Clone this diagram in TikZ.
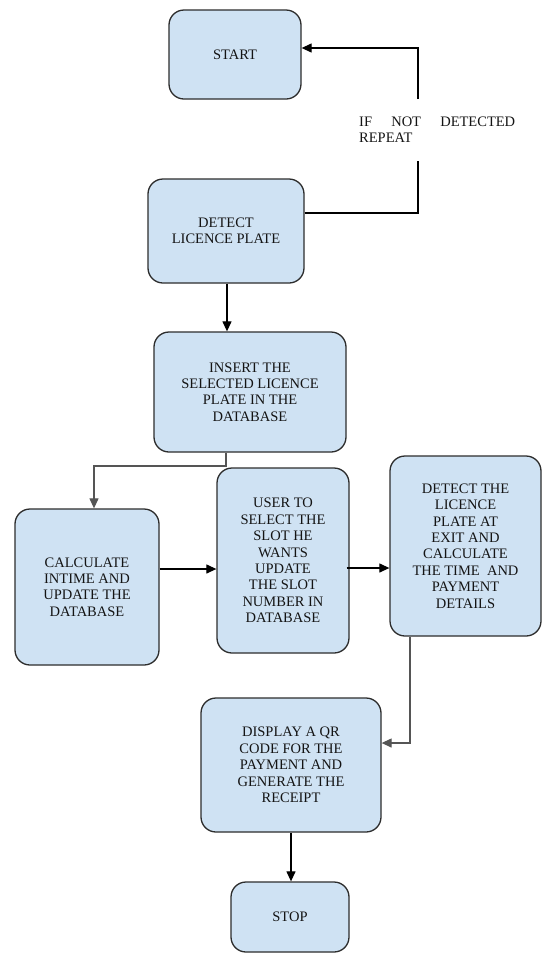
\documentclass[tikz,border=0pt]{standalone}
\usepackage{fontspec}
\setmainfont{Liberation Serif}
\usetikzlibrary{arrows.meta,calc}
\definecolor{boxfill}{RGB}{207,226,243}
\definecolor{boxline}{RGB}{45,45,45}
\definecolor{txt}{RGB}{20,20,20}
\definecolor{grayline}{RGB}{85,85,85}
\tikzset{
  flowbox/.style={draw=boxline, line width=1.3pt, fill=boxfill, rounded corners=15pt,
    inner sep=0pt, align=center, text=txt, font=\rmfamily\fontsize{14.5}{16.4}\selectfont},
  conn/.style={draw=black, line width=1.2pt},
  arr/.style={conn, -{Triangle[length=10pt,width=9pt]}},
  lbl/.style={text=txt, font=\rmfamily\fontsize{14.5}{15.5}\selectfont, inner sep=0pt, text width=156pt, align=left}
}
\begin{document}
\begin{tikzpicture}[x=1pt,y=-1pt]
\useasboundingbox[fill=white] (0,0) rectangle (544,954);

\node[flowbox, minimum width=132pt, minimum height=89pt] (start) at (235,54.5) {START};
\node[flowbox, minimum width=156pt, minimum height=104pt] (detect) at (226,231) {DETECT\\LICENCE PLATE};
\node[flowbox, minimum width=192pt, minimum height=120pt] (insert) at (250,392) {INSERT THE\\SELECTED LICENCE\\PLATE IN THE\\DATABASE};
\node[flowbox, minimum width=144pt, minimum height=156pt] (calc) at (87,587) {CALCULATE\\INTIME AND\\UPDATE THE\\DATABASE};
\node[flowbox, minimum width=132pt, minimum height=185pt] (user) at (283,560.5) {USER TO\\SELECT THE\\SLOT HE\\WANTS\\UPDATE\\THE SLOT\\NUMBER IN\\DATABASE};
\node[flowbox, minimum width=151pt, minimum height=180pt] (det2) at (465.5,546) {DETECT THE\\LICENCE\\PLATE AT\\EXIT AND\\CALCULATE\\THE TIME\ \ AND\\PAYMENT\\DETAILS};
\node[flowbox, minimum width=180pt, minimum height=134pt] (disp) at (291,765) {DISPLAY A QR\\CODE FOR THE\\PAYMENT AND\\GENERATE THE\\RECEIPT};
\node[flowbox, minimum width=118pt, minimum height=70pt] (stop) at (290,917) {STOP};

\node[lbl, anchor=north west] (rep) at (359,117) {IF\hfill NOT\hfill DETECTED\\REPEAT};

% loop back to start
\coordinate (lbot) at (418,161);
\coordinate (ltop) at (418,99);
\coordinate (ly1) at (0,213);
\coordinate (ly2) at (0,48);
\draw[conn] (detect.east |- ly1) -| (lbot);
\draw[arr] (ltop) |- (start.east |- ly2);

% detect -> insert
\coordinate (dx) at (227,0);
\draw[arr] (detect.south -| dx) -- (insert.north -| dx);

% insert -> calc
\coordinate (j1) at (226,466);
\coordinate (j2) at (94,466);
\draw[arr, draw=grayline] (insert.south -| j1) -- (j1) -- (j2) -- (calc.north -| j2);

% calc -> user, user -> det2
\coordinate (r1) at (0,569);
\draw[arr] (calc.east |- r1) -- (user.west |- r1);
\coordinate (r2) at (0,568);
\draw[arr] ([xshift=-3pt]user.east |- r2) -- (det2.west |- r2);

% det2 -> display
\coordinate (c3) at (410,743);
\draw[arr, draw=grayline] (det2.south -| c3) -- (c3) -- (disp.east |- c3);

% display -> stop
\draw[arr] (disp.south) -- (disp.south |- stop.north);
\end{tikzpicture}
\end{document}
